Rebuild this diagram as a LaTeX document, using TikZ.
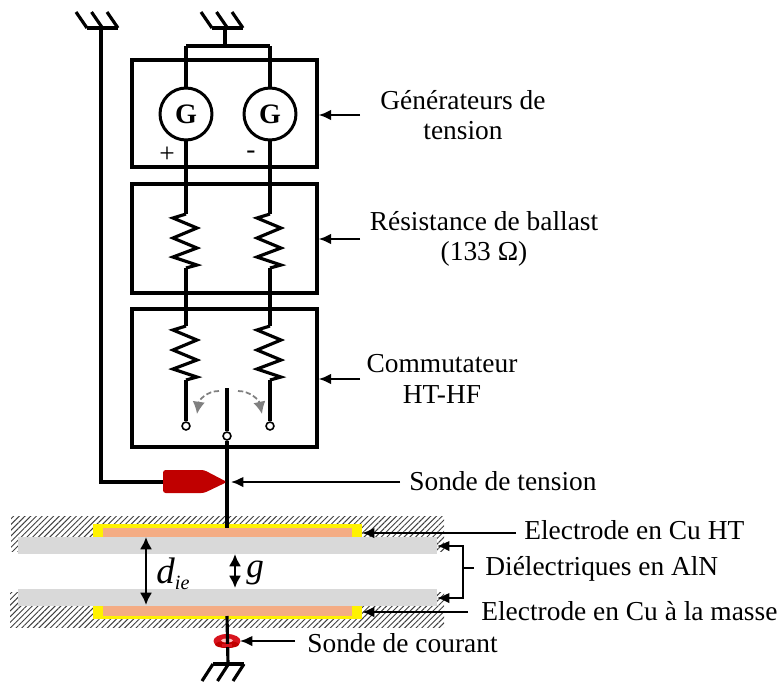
\documentclass[tikz,border=0pt]{standalone}
\usepackage{fontspec}
\setmainfont{Liberation Serif}
\usetikzlibrary{arrows.meta,patterns.meta}
\definecolor{probered}{HTML}{C00000}
\definecolor{torusred}{HTML}{D8141E}
\definecolor{copper}{HTML}{F4AC84}
\definecolor{dielec}{HTML}{D9D9D9}
\tikzset{
	wire/.style={line width=1.8pt},
	thinarrow/.style={line width=1.1pt,-{Latex[length=7pt,width=6pt]}},
	panel/.style={draw,line width=2pt,minimum width=3.7cm,inner sep=0pt},
	gen/.style={circle,draw,line width=1.7pt,minimum size=1.04cm,inner sep=0pt,font=\fontsize{16}{16}\selectfont\bfseries},
	term/.style={circle,draw,fill=white,line width=.9pt,minimum size=4.5pt,inner sep=0pt},
	label/.style={font=\fontsize{15.6}{17.5}\selectfont,align=center,inner sep=0pt},
	hatch/.style={pattern={Lines[angle=45,distance=2.3pt,line width=.55pt]},pattern color=black!75}
}
% zigzag of a resistor, #1 = x, #2 = top y
\newcommand{\resistor}[2]{
	\draw[wire] (#1,#2) -- ++(-13,4) -- ++(24,10) -- ++(-24,10) -- ++(24,10) -- ++(-24,9) -- ++(24,8) -- ++(-11,3);
}
% ground symbol, #1 = x of the left end, #2 = y
\newcommand{\groundsym}[2]{
	\draw[wire] (#1,#2) -- ++(31,0);
	\foreach \t in {0,15.5,31} \draw[wire] (#1+\t,#2) -- ++(-11,-16);
}
\begin{document}
\begin{tikzpicture}[x=0.02cm,y=-0.02cm]
	\useasboundingbox (0,0) rectangle (779,684);

	% electrodes and dielectrics
	\fill[hatch] (11,516) rectangle (444,551);
	\fill[hatch] (10,592) rectangle (444,627);
	\fill[dielec] (18,537) rectangle (437,554);
	\fill[dielec] (18,589) rectangle (437,606);
	\fill[yellow] (93,524) rectangle (362,537);
	\fill[yellow] (93,606) rectangle (362,619);
	\fill[copper] (103,528) rectangle (352,537);
	\fill[copper] (103,606) rectangle (352,616);
	\coordinate (eltop) at (227,528);
	\coordinate (elbot) at (227,616);
	\coordinate (eltopr) at (362,533);
	\coordinate (elbotr) at (362,612);
	\coordinate (dieltop) at (437,546);
	\coordinate (dielbot) at (437,598);

	% boxes
	\node[panel,minimum height=2.14cm] (boxgen) at (224.5,113.5) {};
	\node[panel,minimum height=2.18cm] (boxres) at (224.5,238.5) {};
	\node[panel,minimum height=2.76cm] (boxcom) at (224.5,378) {};

	% generators
	\node[gen] (genp) at (186,114) {G};
	\node[gen] (genm) at (270,114) {G};
	\node[font=\fontsize{15.6}{15.6}\selectfont] (plus) at (167,155) {+};
	\node[font=\fontsize{15.6}{15.6}\selectfont] (minus) at (251,155) {-};

	% grounds
	\coordinate (gndl) at (101,28);
	\coordinate (gndm) at (225,28);
	\coordinate (gndb) at (228,664);
	\coordinate (barl) at (186,46);
	\coordinate (barr) at (270,46);
	\groundsym{87}{28}
	\groundsym{212}{28}
	\draw[wire] (213,664) -- (244,664);
	\foreach \t in {213,228.5,244} \draw[wire] (\t,664) -- ++(-11,17);
	\draw[wire] (gndm) -- (225,46);
	\draw[wire] (barl) -- (barr);
	\draw[wire] (barl) -- (genp.north);
	\draw[wire] (barr) -- (genm.north);

	% resistors
	\foreach \x/\n in {186/p,270/m} {
		\resistor{\x}{214}
		\resistor{\x}{326}
		\node[term] (sw\n) at (\x,426) {};
		\draw[wire] (gen\n.south) -- (\x,214);
		\draw[wire] (\x,268) -- (\x,326);
		\draw[wire] (\x,380) -- (sw\n.north);
	}

	% switch
	\node[term] (swc) at (227,436) {};
	\coordinate (swtop) at (227,388);
	\draw[wire] (swtop) -- (swc.north);
	\draw[wire] (swc.south) -- (eltop);
	\draw[gray,line width=1pt,dash pattern=on 3pt off 1.5pt,-{Latex[length=7pt,width=7pt]}] (219,391) .. controls (207,391) and (199,400) .. (197,414);
	\draw[gray,line width=1pt,dash pattern=on 3pt off 1.5pt,-{Latex[length=7pt,width=7pt]}] (238,391) .. controls (250,391) and (259,400) .. (262,414);

	% voltage probe
	\coordinate (probew) at (163,482);
	\coordinate (probetip) at (227,482);
	\fill[probered,rounded corners=1.5pt] (163,470) -- (204,470) -- (227,482) -- (204,493) -- (163,493) -- cycle;
	\draw[wire] (gndl) |- (probew);

	% current probe
	\coordinate (torus) at (240,641);
	\fill[torusred] (227,641) ellipse (13.5 and 7);
	\fill[probered] (227,644.5) ellipse (12 and 3.5);
	\fill[red!25!white] (227,640.5) ellipse (6 and 2);
	\draw[wire] (elbot) -- (gndb);
	\draw[line width=1.6pt,torusred] (222,645.5) -- (232,645.5);

	% gap arrows
	\draw[line width=1.7pt,{Latex[length=7pt,width=7pt]}-{Latex[length=7pt,width=7pt]}] (146,537) -- (146,605);
	\draw[line width=1.7pt,{Latex[length=7pt,width=7pt]}-{Latex[length=7pt,width=7pt]}] (235,554) -- (235,588);
	\node[label,anchor=west] (die) at (156,574) {\fontsize{21}{21}\selectfont\textit{d}\raisebox{-3.5pt}{\fontsize{11.5}{11.5}\selectfont\textit{ie}}};
	\node[label,anchor=west] (gap) at (246,573) {\fontsize{20}{20}\selectfont\textit{g}};

	% labels
	\node[label] (lgen) at (463,115) {Générateurs de\\tension};
	\node[label] (lres) at (484,239) {Résistance de ballast\\(133 Ω)};
	\node[label] (lcom) at (442,379) {Commutateur\\HT-HF};
	\node[label,anchor=west] (lvolt) at (409,481) {Sonde de tension};
	\node[label,anchor=west] (lhv) at (524,530) {Electrode en Cu HT};
	\node[label,anchor=west] (ldiel) at (485,569) {Diélectriques en AlN};
	\node[label,anchor=west] (lgnd) at (481,611) {Electrode en Cu à la masse};
	\node[label,anchor=west] (lcur) at (307,643) {Sonde de courant};

	% label arrows
	\coordinate (agen) at (360,115);
	\coordinate (ares) at (360,239);
	\coordinate (acom) at (360,379);
	\coordinate (avolt) at (400,482);
	\coordinate (ahv) at (516,533);
	\coordinate (agnd) at (468,612);
	\coordinate (acur) at (295,641);
	\coordinate (brack) at (463,568);
	\draw[thinarrow] (agen) -- (boxgen.east|-agen);
	\draw[thinarrow] (ares) -- (boxres.east|-ares);
	\draw[thinarrow] (acom) -- (boxcom.east|-acom);
	\draw[thinarrow] (avolt) -- (231,482);
	\draw[thinarrow] (ahv) -- (eltopr);
	\draw[thinarrow] (agnd) -- (elbotr);
	\draw[thinarrow] (acur) -- (torus);
	\draw[thinarrow] (brack) |- (dieltop);
	\draw[thinarrow] (brack) |- (dielbot);
	\draw[line width=1.1pt] (brack) -- (474,568);
\end{tikzpicture}
\end{document}
